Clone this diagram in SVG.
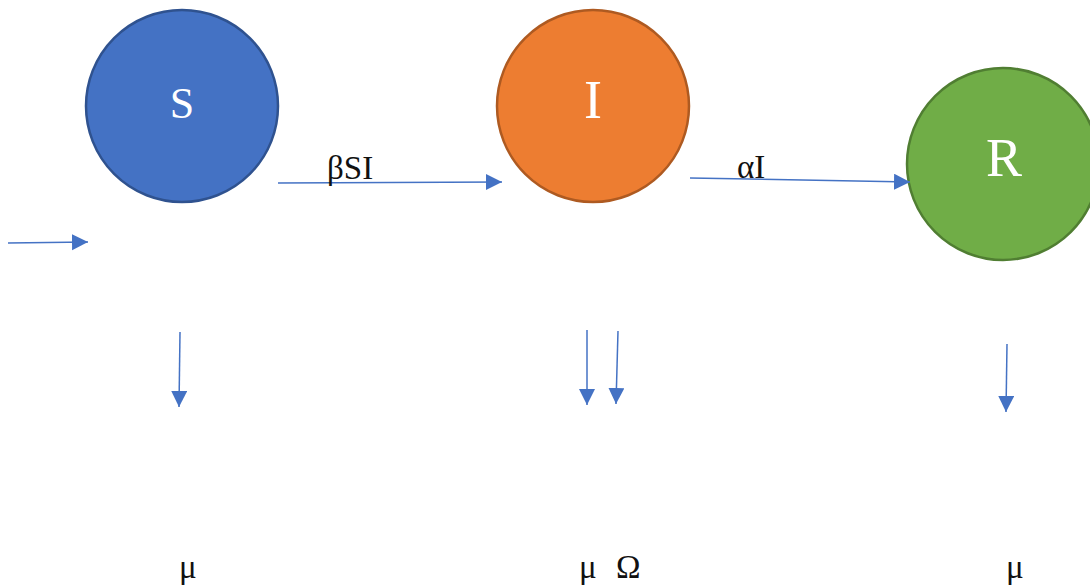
<svg xmlns="http://www.w3.org/2000/svg" width="1090" height="588" viewBox="0 0 1090 588">
<style>
.c{stroke-width:2.5}
.lbl{font-family:"Liberation Serif",serif;fill:#fff;text-anchor:middle}
.t{font-family:"Liberation Serif",serif;fill:#111;font-size:33px}
.a{stroke:#4472C4;stroke-width:1.5;fill:none;marker-end:url(#ah)}
</style>
<defs>
<marker id="ah" markerUnits="userSpaceOnUse" markerWidth="18" markerHeight="18" refX="16" refY="8" orient="auto">
<path d="M0,0 L16,8 L0,16 Z" fill="#4472C4"/>
</marker>
</defs>
<rect width="1090" height="588" fill="#fff"/>
<g id="S"><circle class="c" cx="182" cy="106" r="96" fill="#4472C4" stroke="#2F528F"/><text class="lbl" x="182" y="118" font-size="44">S</text></g>
<g id="I"><circle class="c" cx="593" cy="106" r="96" fill="#ED7D31" stroke="#AE5A21"/><text class="lbl" x="593" y="118" font-size="54">I</text></g>
<g id="R"><circle class="c" cx="1003" cy="164" r="96" fill="#70AD47" stroke="#507E32"/><text class="lbl" x="1004" y="176" font-size="54">R</text></g>
<g id="connectors">
<line class="a" x1="8" y1="243" x2="88" y2="242"/>
<line class="a" x1="278" y1="183" x2="502" y2="182"/>
<line class="a" x1="690" y1="178" x2="910" y2="182"/>
<line class="a" x1="180" y1="332" x2="179" y2="407"/>
<line class="a" x1="587" y1="330" x2="587" y2="405"/>
<line class="a" x1="618" y1="331" x2="616" y2="404"/>
<line class="a" x1="1007" y1="344" x2="1006" y2="412"/>
</g>
<g id="labels">
<text class="t" x="327" y="179">βSI</text>
<text class="t" x="737" y="178">αI</text>
<text class="t" x="179" y="578">μ</text>
<text class="t" x="579" y="578">μ</text>
<text class="t" x="616" y="578">Ω</text>
<text class="t" x="1006" y="578">μ</text>
</g>
</svg>
